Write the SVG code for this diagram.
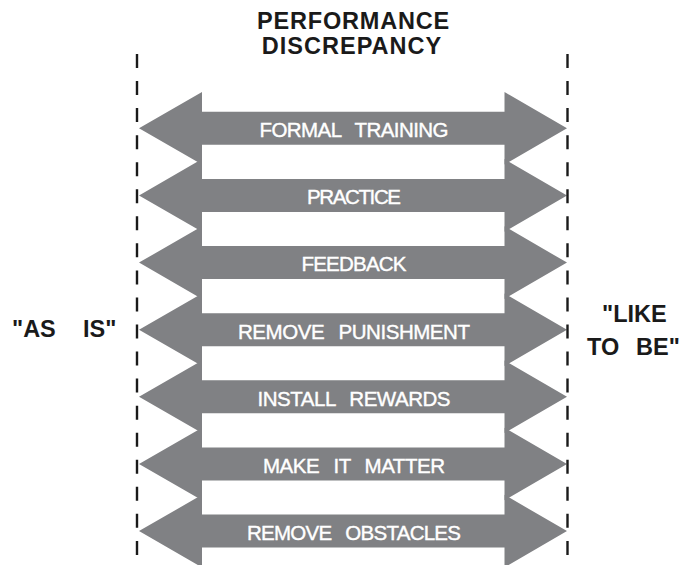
<svg xmlns="http://www.w3.org/2000/svg" width="682" height="565" viewBox="0 0 682 565">
<defs>
<style>
.arrow{fill:#808184;}
.lbl{font-family:"Liberation Sans",Arial,sans-serif;font-size:20.5px;fill:#ffffff;stroke:#ffffff;stroke-width:0.4;text-anchor:middle;word-spacing:9px;}
.big{font-family:"Liberation Sans",Arial,sans-serif;font-size:23.5px;font-weight:bold;fill:#1a1a1a;}
.dash{stroke:#1a1a1a;stroke-width:2.4;stroke-dasharray:14 13.05;fill:none;}
</style>
<path id="dbl" class="arrow" d="M139,0 L202,-36.3 L202,-16.5 L504.5,-16.5 L504.5,-36.3 L567,0 L504.5,36.3 L504.5,16.5 L202,16.5 L202,36.3 Z"/>
</defs>
<rect width="682" height="565" fill="#ffffff"/>
<g id="title">
<text class="big" x="353.5" y="28.5" text-anchor="middle" letter-spacing="0.8">PERFORMANCE</text>
<text class="big" x="352" y="53.5" text-anchor="middle" letter-spacing="1">DISCREPANCY</text>
</g>
<g id="n1" transform="translate(0,128.3)"><use href="#dbl"/><text class="lbl" x="354" y="8.8" textLength="189" lengthAdjust="spacing">FORMAL TRAINING</text></g>
<g id="n2" transform="translate(0,195.4)"><use href="#dbl"/><text class="lbl" x="354" y="8.8" textLength="94" lengthAdjust="spacing">PRACTICE</text></g>
<g id="n3" transform="translate(0,262.6)"><use href="#dbl"/><text class="lbl" x="354" y="8.8" textLength="105" lengthAdjust="spacing">FEEDBACK</text></g>
<g id="n4" transform="translate(0,329.7)"><use href="#dbl"/><text class="lbl" x="354" y="8.8" textLength="232" lengthAdjust="spacing">REMOVE PUNISHMENT</text></g>
<g id="n5" transform="translate(0,396.8)"><use href="#dbl"/><text class="lbl" x="354" y="8.8" textLength="193" lengthAdjust="spacing">INSTALL REWARDS</text></g>
<g id="n6" transform="translate(0,464)"><use href="#dbl"/><text class="lbl" x="354" y="8.8" textLength="182" lengthAdjust="spacing">MAKE IT MATTER</text></g>
<g id="n7" transform="translate(0,531.1)"><use href="#dbl"/><text class="lbl" x="354" y="8.8" textLength="214" lengthAdjust="spacing">REMOVE OBSTACLES</text></g>
<g id="connectors">
<line class="dash" x1="137" y1="54" x2="137" y2="556"/>
<line class="dash" x1="567.5" y1="54" x2="567.5" y2="556"/>
</g>
<g id="as-is">
<text class="big" y="337"><tspan x="12">"AS</tspan><tspan x="83">IS"</tspan></text>
</g>
<g id="like-to-be">
<text class="big" y="322"><tspan x="602">"LIKE</tspan></text>
<text class="big" y="355"><tspan x="587">TO</tspan><tspan x="636">BE"</tspan></text>
</g>
</svg>
